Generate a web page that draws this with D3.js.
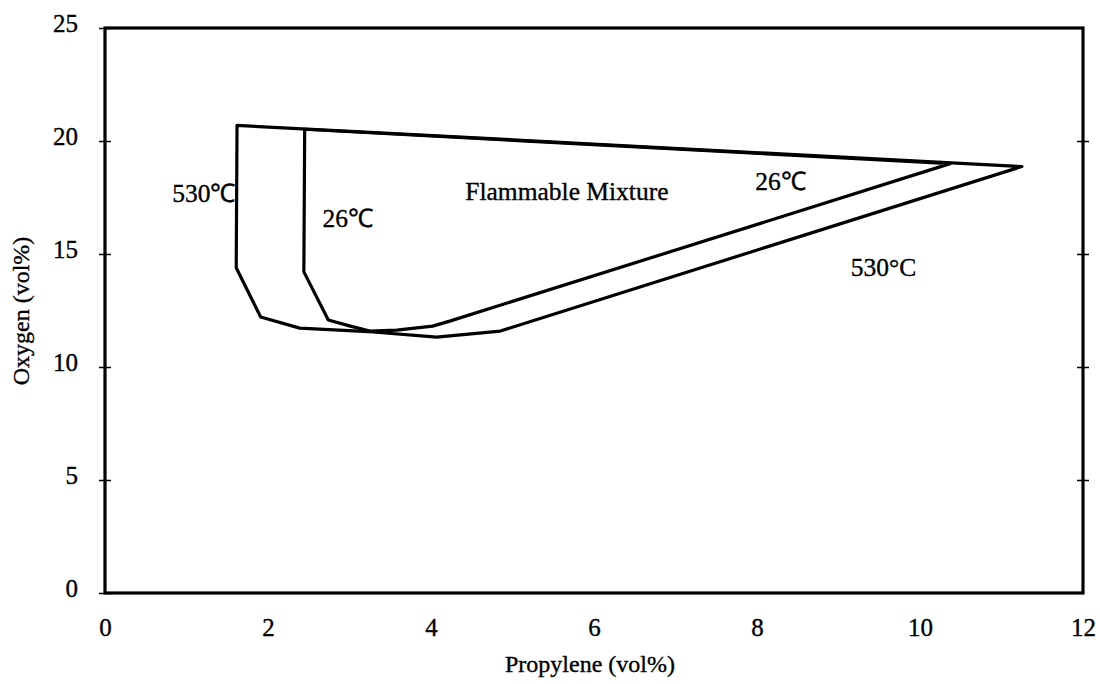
<!DOCTYPE html>
<html>
<head>
<meta charset="utf-8">
<script src="https://cdn.jsdelivr.net/npm/d3@7"></script>
<style>
  html, body { margin: 0; padding: 0; background: #fff; }
  svg { display: block; }
  text { font-family: "Liberation Serif", "Times New Roman", serif; fill: #000; stroke: #000; stroke-width: 0.35px; }
</style>
</head>
<body>
<svg id="chart" width="1100" height="684"></svg>
<script>
// Flammability envelope of propylene / oxygen / nitrogen mixtures
const xTicks = [0, 2, 4, 6, 8, 10, 12];
const yTicks = [0, 5, 10, 15, 20, 25];

// Boundary at 530 °C: propylene vol% and oxygen vol%
const hotPropylene = [1.62, 1.61, 1.91, 2.39, 3.29, 4.07, 4.85, 11.25];
const hotOxygen    = [20.69, 14.39, 12.21, 11.72, 11.55, 11.32, 11.59, 18.87];

// Boundary at 26 °C
const coldPropylene = [2.45, 2.44, 2.74, 3.01, 3.25, 3.58, 4.02, 4.23, 10.37];
const coldOxygen    = [20.52, 14.21, 12.08, 11.81, 11.59, 11.63, 11.81, 12.03, 19.0];

const svg = d3.select("#chart");
const x = d3.scaleLinear().domain([0, 12]).range([105, 1083]);
const y = d3.scaleLinear().domain([0, 25]).range([593, 28]);

const tickFont = 25;
const noteFont = 25.5;

// Plot frame
svg.append("rect")
  .attr("x", x(0)).attr("y", y(25))
  .attr("width", x(12) - x(0)).attr("height", y(0) - y(25))
  .attr("fill", "none").attr("stroke", "#000").attr("stroke-width", 3.2);

// Left axis: ticks crossing the frame
const yAxis = svg.append("g")
  .attr("transform", `translate(${x(0)},0)`)
  .call(d3.axisLeft(y).tickValues(yTicks).tickFormat(d3.format("d")).tickSize(6).tickPadding(21));
yAxis.select(".domain").remove();
yAxis.selectAll(".tick line").attr("x1", -6).attr("x2", 6).attr("stroke-width", 1.5);
yAxis.selectAll(".tick text")
  .attr("dy", "0.12em")
  .style("font-size", tickFont + "px")
  .style("font-family", "Liberation Serif, serif");

// Right axis: matching tick marks, no labels
const yAxisR = svg.append("g")
  .attr("transform", `translate(${x(12)},0)`)
  .call(d3.axisRight(y).tickValues(yTicks.filter(v => v > 0 && v < 25)).tickFormat("").tickSize(6));
yAxisR.select(".domain").remove();
yAxisR.selectAll(".tick line").attr("x1", -6).attr("x2", 6).attr("stroke-width", 1.5);

// Bottom axis: labels only
const xAxis = svg.append("g")
  .attr("transform", `translate(0,${y(0)})`)
  .call(d3.axisBottom(x).tickValues(xTicks).tickFormat(d3.format("d")).tickSize(0).tickPadding(25));
xAxis.select(".domain").remove();
xAxis.selectAll(".tick text")
  .style("font-size", tickFont + "px")
  .style("font-family", "Liberation Serif, serif");

// Axis titles
svg.append("text")
  .attr("x", 590).attr("y", 672)
  .attr("text-anchor", "middle")
  .style("font-size", "24px")
  .text("Propylene (vol%)");

svg.append("text")
  .attr("transform", "translate(29,311) rotate(-90)")
  .attr("text-anchor", "middle")
  .style("font-size", "24px")
  .text("Oxygen (vol%)");

// Envelopes
const line = d3.line().x(d => x(d[0])).y(d => y(d[1])).curve(d3.curveLinearClosed);
const hot = d3.zip(hotPropylene, hotOxygen);
const cold = d3.zip(coldPropylene, coldOxygen);

svg.append("path").datum(hot).attr("d", line)
  .attr("fill", "none").attr("stroke", "#000").attr("stroke-width", 3.2).attr("stroke-linejoin", "round");
svg.append("path").datum(cold).attr("d", line)
  .attr("fill", "none").attr("stroke", "#000").attr("stroke-width", 3.2).attr("stroke-linejoin", "round");

// Annotations
const notes = [
  { t: "530\u2103", px: 1.6, oy: 17.32, anchor: "end" },
  { t: "26\u2103", px: 2.67, oy: 16.21, anchor: "start" },
  { t: "Flammable Mixture", px: 4.42, oy: 17.4, anchor: "start" },
  { t: "26\u2103", px: 7.98, oy: 17.85, anchor: "start" },
  { t: "530\u00B0C", px: 9.15, oy: 14.03, anchor: "start" }
];
svg.selectAll("text.note").data(notes).join("text")
  .attr("class", "note")
  .attr("x", d => x(d.px)).attr("y", d => y(d.oy))
  .attr("text-anchor", d => d.anchor)
  .style("font-size", noteFont + "px")
  .text(d => d.t);
</script>
</body>
</html>
